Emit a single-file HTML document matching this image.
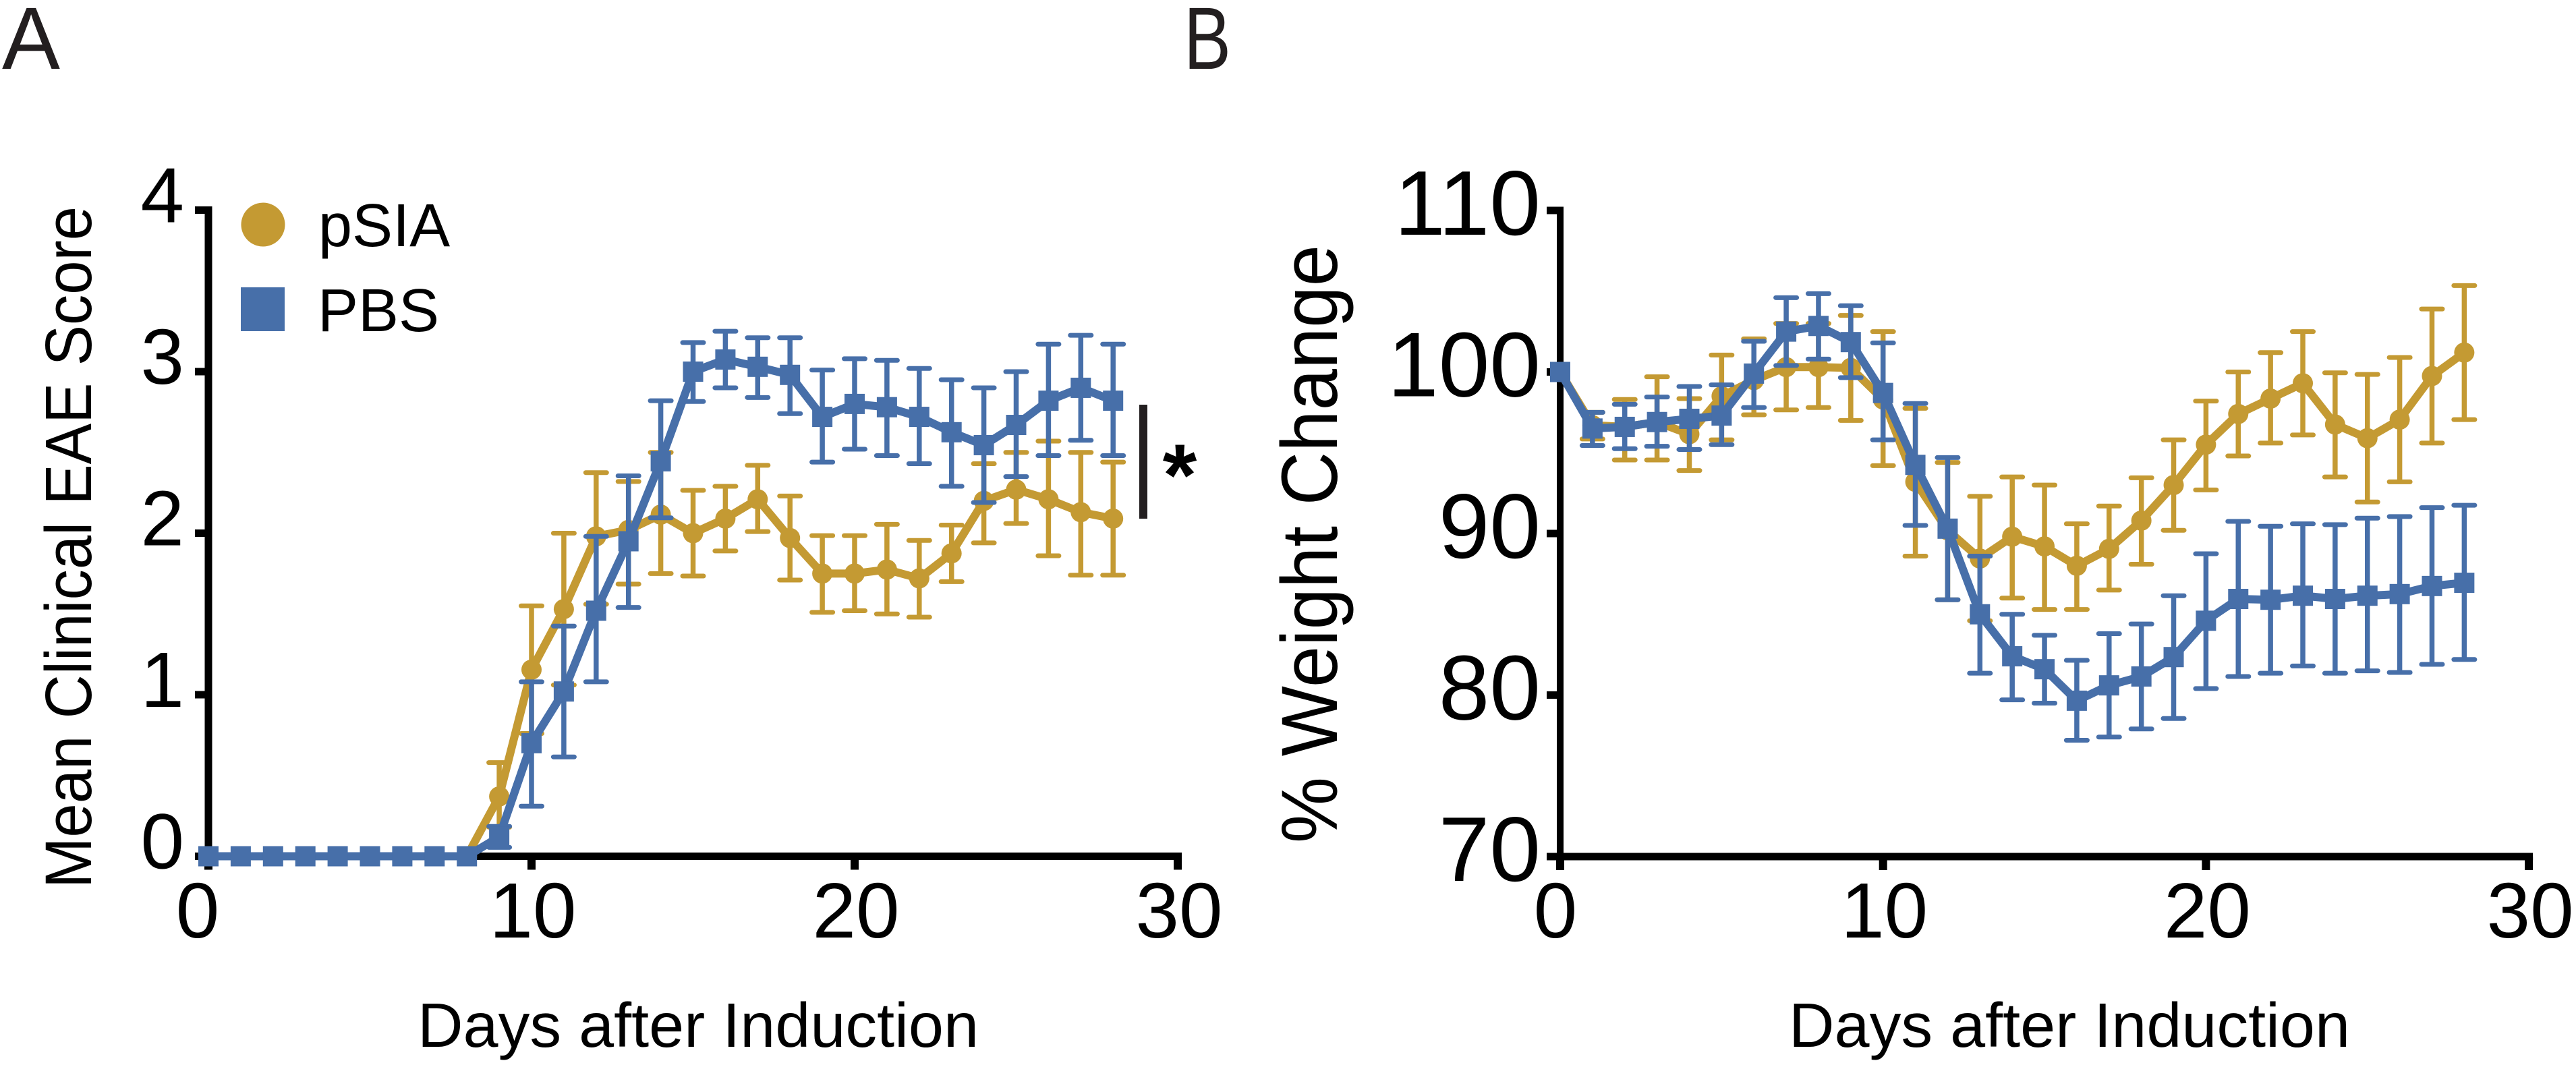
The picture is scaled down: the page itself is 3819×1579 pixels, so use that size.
<!DOCTYPE html>
<html lang="en">
<head>
<meta charset="utf-8">
<title>EAE score and weight change</title>
<style>
html,body{margin:0;padding:0;background:#fff;width:3819px;height:1579px;overflow:hidden}
svg{display:block}
text{font-family:"Liberation Sans",Arial,sans-serif;fill:#000}
</style>
</head>
<body>
<svg id="fig" xmlns="http://www.w3.org/2000/svg" width="3819" height="1579" viewBox="0 0 3819 1579">
  <rect x="0" y="0" width="3819" height="1579" fill="#fff"/>
  <text x="3" y="102" font-size="131" textLength="86" lengthAdjust="spacingAndGlyphs" style="fill:#231f20">A</text>
  <text x="1755" y="102" font-size="131" textLength="70" lengthAdjust="spacingAndGlyphs" style="fill:#231f20">B</text>

  <g id="panelA"></g>
  <g id="panelB"></g>

  <text transform="translate(135 1317) rotate(-90)" font-size="97" textLength="1011" lengthAdjust="spacingAndGlyphs">Mean Clinical EAE Score</text>
  <text transform="translate(1982 1250) rotate(-90)" font-size="118" textLength="887" lengthAdjust="spacingAndGlyphs">% Weight Change</text>
  <text x="619" y="1552" font-size="93" textLength="832" lengthAdjust="spacingAndGlyphs">Days after Induction</text>
  <text x="2652" y="1552" font-size="93" textLength="832" lengthAdjust="spacingAndGlyphs">Days after Induction</text>

  <circle cx="390" cy="333" r="32.5" fill="#c49a33"/>
  <text x="472" y="365" font-size="90">pSIA</text>
  <rect x="357" y="426" width="65" height="65" fill="#476fa9"/>
  <text x="471" y="491" font-size="90">PBS</text>

  <rect x="1689" y="600" width="12" height="169" fill="#231f20"/>
  <text x="1749" y="749" font-size="130" font-weight="bold" text-anchor="middle">*</text>
</svg>
<script>
const days = [0,1,2,3,4,5,6,7,8,9,10,11,12,13,14,15,16,17,18,19,20,21,22,23,24,25,26,27,28];

const scoreGoldMean = [0,0,0,0,0,0,0,0,0,0.37,1.155,1.53,1.98,2.02,2.115,2.00,2.09,2.21,1.97,1.75,1.75,1.775,1.72,1.875,2.20,2.27,2.21,2.13,2.09];
const scoreGoldHigh = [0,0,0,0,0,0,0,0,0,0.58,1.55,2.00,2.375,2.32,2.50,2.265,2.29,2.42,2.23,1.985,1.985,2.055,1.955,2.05,2.43,2.50,2.57,2.50,2.44];
const scoreGoldLow  = [0,0,0,0,0,0,0,0,0,0.18,0.76,1.06,1.56,1.685,1.75,1.735,1.89,2.01,1.71,1.51,1.52,1.50,1.48,1.70,1.94,2.06,1.86,1.74,1.74];

const scoreBlueMean = [0,0,0,0,0,0,0,0,0,0.12,0.70,1.02,1.52,1.95,2.445,3.00,3.075,3.03,2.98,2.72,2.80,2.78,2.72,2.625,2.545,2.67,2.82,2.90,2.82];
const scoreBlueHigh = [0,0,0,0,0,0,0,0,0,0.185,1.08,1.425,1.98,2.355,2.82,3.18,3.25,3.21,3.21,3.01,3.08,3.07,3.02,2.95,2.90,3.00,3.17,3.225,3.17];
const scoreBlueLow  = [0,0,0,0,0,0,0,0,0,0.055,0.31,0.615,1.08,1.54,2.095,2.815,2.90,2.84,2.74,2.44,2.52,2.48,2.43,2.29,2.19,2.35,2.48,2.575,2.48];

const weightGoldMean = [100,96.7,96.6,96.9,96.15,98.5,99.5,100.3,100.3,100.25,98.3,93.2,90.2,88.45,89.8,89.2,88.0,89.05,90.8,93.0,95.5,97.4,98.35,99.3,96.75,95.9,97.05,99.75,101.2];
const weightGoldHigh = [100,97.5,98.3,99.7,98.35,101.05,102.05,103.0,103.0,103.5,102.5,97.75,94.4,92.3,93.5,93.0,90.6,91.7,93.45,95.8,98.2,100,101.2,102.5,99.95,99.85,100.9,103.9,105.35];
const weightGoldLow  = [100,95.85,94.55,94.55,93.9,95.8,97.35,97.65,97.8,97,94.2,88.6,85.9,84.6,86.0,85.3,85.3,86.5,88.1,90.2,92.7,94.8,95.6,96.1,93.5,91.95,93.2,95.6,97.05];

const weightBlueMean = [100,96.5,96.6,96.9,97.1,97.3,99.9,102.5,102.85,101.85,98.7,94.25,90.3,85.0,82.4,81.6,79.65,80.6,81.15,82.35,84.6,85.95,85.9,86.15,85.95,86.15,86.25,86.75,86.95];
const weightBlueHigh = [100,97.5,98.0,98.45,99.1,99.2,101.9,104.6,104.85,104.1,101.8,98.05,94.7,88.6,85,83.7,82.15,83.8,84.4,86.15,88.75,90.75,90.45,90.6,90.55,90.95,91.05,91.6,91.75];
const weightBlueLow  = [100,95.45,95.25,95.4,95.2,95.5,97.8,100.4,100.8,99.65,95.8,90.5,85.9,81.35,79.7,79.5,77.2,77.4,77.9,78.55,80.4,81.15,81.35,81.8,81.35,81.5,81.4,81.9,82.2];

const xTicks = [0,10,20,30];
const scoreTicks = [0,1,2,3,4];
const weightTicks = [70,80,90,100,110];

const GOLD = '#c49a33';
const BLUE = '#476fa9';
const SVGNS = 'http://www.w3.org/2000/svg';

const xA = function (d) { return 309 + 47.9 * d; };
const yA = function (v) { return 1269.5 - 239.5 * v; };
const xB = function (d) { return 2313 + 47.87 * d; };
const yB = function (v) { return 1270 - 23.95 * (v - 70); };

function make(parent, tag, attrs) {
  const el = document.createElementNS(SVGNS, tag);
  for (const k in attrs) el.setAttribute(k, attrs[k]);
  parent.appendChild(el);
  return el;
}

function drawAxes(g, x, y, yTicks, o) {
  const ax = x(0), ay = y(yTicks[0]);
  const top = y(yTicks[yTicks.length - 1]);
  const right = x(xTicks[xTicks.length - 1]);
  const yAxis = make(g, 'rect', {x: ax - o.w / 2, y: top - 5.5, width: o.w, height: ay + 20 - (top - 5.5), fill: '#000'});
  
  
  const xAxis = make(g, 'rect', {x: ax, y: ay - 5.5, width: right + 6 - ax, height: 11, fill: '#000'});
  
  
  yTicks.forEach(function (v) {
    const t = make(g, 'rect', {x: ax - 20, y: y(v) - 5.5, width: 20, height: 11, fill: '#000'});
    
    
    const l = make(g, 'text', {x: o.labelRight, y: y(v) + o.yDrop, 'font-size': o.yFont, 'text-anchor': 'end'});
    
    
    l.textContent = String(v);
  });
  xTicks.forEach(function (v) {
    const t = make(g, 'rect', {x: x(v) - 6, y: ay, width: 12, height: 20, fill: '#000'});
    
    
    const l = make(g, 'text', {x: x(v) + (v === 0 ? o.zeroNudge : o.xNudge), y: 1390, 'font-size': 116, 'text-anchor': 'middle'});
    
    
    l.textContent = String(v);
  });
}

function drawSeries(g, x, y, mean, high, low, color, shape, name) {
  const sg = make(g, 'g', {});
  
  
  days.forEach(function (d, i) {
    if (high[i] === low[i]) return;
    const stem = make(sg, 'line', {x1: x(d), x2: x(d), y1: y(high[i]), y2: y(low[i]), stroke: color, 'stroke-width': 7.5});
    
    
    [high[i], low[i]].forEach(function (v) {
      const cap = make(sg, 'line', {x1: x(d) - 15.5, x2: x(d) + 15.5, y1: y(v), y2: y(v), stroke: color, 'stroke-width': 7, 'stroke-linecap': 'round'});
      
      
    });
  });
  const pts = days.map(function (d, i) { return x(d).toFixed(1) + ',' + y(mean[i]).toFixed(1); }).join(' ');
  const line = make(sg, 'polyline', {points: pts, fill: 'none', stroke: color, 'stroke-width': 12, 'stroke-linejoin': 'round'});
  
  
  days.forEach(function (d, i) {
    let m;
    if (shape === 'circle') {
      m = make(sg, 'circle', {cx: x(d), cy: y(mean[i]), r: 15, fill: color});
    } else {
      m = make(sg, 'rect', {x: x(d) - 15, y: y(mean[i]) - 15, width: 30, height: 30, fill: color});
    }
    
    
  });
}

const panelA = document.getElementById('panelA');
const panelB = document.getElementById('panelB');

drawAxes(panelA, xA, yA, scoreTicks, {w: 11, labelRight: 273, yDrop: 18, yFont: 116, zeroNudge: -16, xNudge: 2});
drawSeries(panelA, xA, yA, scoreGoldMean, scoreGoldHigh, scoreGoldLow, GOLD, 'circle', 'psia-score');
drawSeries(panelA, xA, yA, scoreBlueMean, scoreBlueHigh, scoreBlueLow, BLUE, 'square', 'pbs-score');

drawAxes(panelB, xB, yB, weightTicks, {w: 10, labelRight: 2284, yDrop: 36, yFont: 136, zeroNudge: -7, xNudge: 2});
drawSeries(panelB, xB, yB, weightGoldMean, weightGoldHigh, weightGoldLow, GOLD, 'circle', 'psia-weight');
drawSeries(panelB, xB, yB, weightBlueMean, weightBlueHigh, weightBlueLow, BLUE, 'square', 'pbs-weight');
</script>
</body>
</html>
